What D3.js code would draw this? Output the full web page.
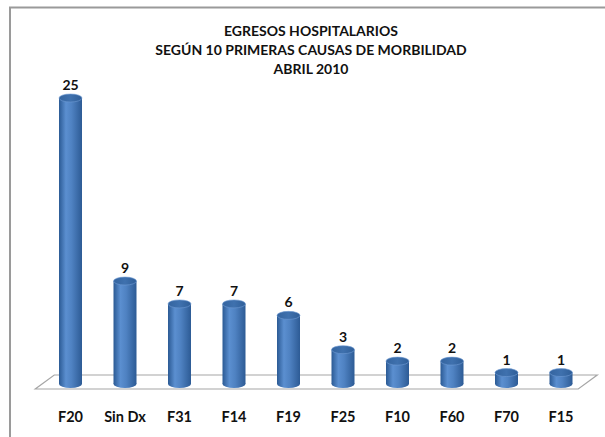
<!DOCTYPE html>
<html><head><meta charset="utf-8">
<script src="https://cdn.jsdelivr.net/npm/d3@7"></script>
<style>html,body{margin:0;padding:0;background:#fff;}svg{display:block;}</style>
</head><body>
<svg id="c" width="605" height="437"></svg>
<script>
const titleLines = ["EGRESOS HOSPITALARIOS", "SEGÚN 10 PRIMERAS CAUSAS DE MORBILIDAD", "ABRIL 2010"];
const categories = ["F20", "Sin Dx", "F31", "F14", "F19", "F25", "F10", "F60", "F70", "F15"];
const values = [25, 9, 7, 7, 6, 3, 2, 2, 1, 1];

const svg = d3.select("#c");
const font = "Lato, 'Open Sans', sans-serif";

// outer frame
svg.append("rect").attr("x", 10).attr("y", 7.5).attr("width", 700).attr("height", 600)
  .attr("fill", "none").attr("stroke", "#9a9a9a").attr("stroke-width", 2);

const x = d3.scalePoint().domain(categories).range([43.25, 588.25]).padding(0.5);
const y = d3.scaleLinear().domain([0, 25]).range([384, 98]);
const barW = 23, ry = 4;

const defs = svg.append("defs");
const g1 = defs.append("linearGradient").attr("id", "body").attr("x1", 0).attr("x2", 1).attr("y1", 0).attr("y2", 0);
[[0, "#2b5a94"], [0.3, "#5b8fd0"], [0.55, "#4f82c2"], [1, "#2d5b95"]].forEach(s =>
  g1.append("stop").attr("offset", s[0]).attr("stop-color", s[1]));
const g2 = defs.append("linearGradient").attr("id", "top").attr("x1", 0).attr("x2", 1).attr("y1", 0).attr("y2", 0);
[[0, "#34649f"], [0.5, "#3f71ae"], [1, "#2f5e98"]].forEach(s =>
  g2.append("stop").attr("offset", s[0]).attr("stop-color", s[1]));

// floor
const [r0, r1] = x.range();
const yb = y(0);
svg.append("polygon")
  .attr("points", [[r0 + 11, yb - 9], [r1 + 9, yb - 9], [r1 - 10, yb + 5], [r0 - 8, yb + 5]].map(p => p.join(",")).join(" "))
  .attr("fill", "#fff").attr("stroke", "#a6a6a6").attr("stroke-width", 1.2);

// cylinders
const bars = svg.append("g").selectAll("g").data(categories).join("g");
bars.append("ellipse").attr("cx", d => x(d)).attr("cy", y(0)).attr("rx", barW / 2).attr("ry", ry).attr("fill", "url(#body)");
bars.append("rect").attr("x", d => x(d) - barW / 2).attr("y", (d, i) => y(values[i]))
  .attr("width", barW).attr("height", (d, i) => y(0) - y(values[i])).attr("fill", "url(#body)");
bars.append("ellipse").attr("cx", d => x(d)).attr("cy", (d, i) => y(values[i])).attr("rx", barW / 2).attr("ry", ry)
  .attr("fill", "url(#top)").attr("stroke", "#6e9bd3").attr("stroke-width", 0.6);

// value labels
svg.append("g").selectAll("text").data(categories).join("text")
  .attr("x", d => x(d)).attr("y", (d, i) => y(values[i]) - 8)
  .attr("text-anchor", "middle").attr("font-family", font).attr("font-weight", "bold")
  .attr("font-size", 14).attr("fill", "#111").text((d, i) => values[i]);

// category labels
svg.append("g").selectAll("text").data(categories).join("text")
  .attr("x", d => x(d)).attr("y", 421.5)
  .attr("text-anchor", "middle").attr("font-family", font).attr("font-weight", "bold")
  .attr("font-size", 14.5).attr("fill", "#111").text(d => d);

// title
svg.append("g").selectAll("text").data(titleLines).join("text")
  .attr("x", 311).attr("y", (d, i) => 35.5 + i * 19)
  .attr("text-anchor", "middle").attr("font-family", font).attr("font-weight", "bold")
  .attr("font-size", 14).attr("fill", "#111").text(d => d);
</script>
</body></html>
